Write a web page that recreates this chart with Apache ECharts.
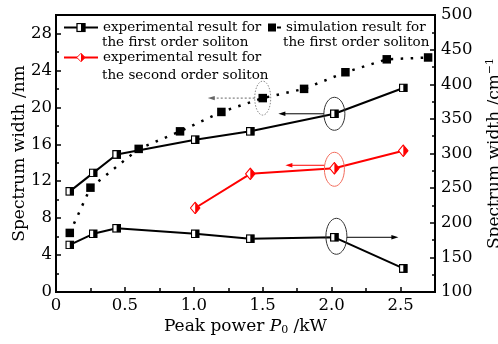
<!DOCTYPE html>
<html><head><meta charset="utf-8">
<script src="https://cdn.jsdelivr.net/npm/echarts@6/dist/echarts.min.js"></script>
<style>html,body{margin:0;padding:0;background:#fff}#c{width:498px;height:344px}</style>
</head><body><div id="c"></div><script>
const FONT = 'DejaVu Serif';
// Experimental, first order soliton (nm on left axis, cm^-1 on right axis)
const powerExp1 = [0.1, 0.27, 0.44, 1.01, 1.41, 2.02, 2.52];
const widthExp1Nm = [10.9, 12.9, 14.9, 16.5, 17.4, 19.3, 22.1];
const widthExp1Cm = [168, 184, 192, 184, 177, 179, 134];
// Experimental, second order soliton (nm)
const powerExp2 = [1.01, 1.41, 2.02, 2.52];
const widthExp2Nm = [9.1, 12.8, 13.4, 15.3];
// Simulation, first order soliton (nm)
const powerSim = [0.1, 0.25, 0.6, 0.9, 1.2, 1.5, 1.8, 2.1, 2.4, 2.7];
const widthSimNm = [6.4, 11.3, 15.5, 17.4, 19.5, 21.0, 22.0, 23.8, 25.2, 25.4];

const NAME_EXP1 = 'experimental result for the first order soliton';
const NAME_EXP2 = 'experimental result for the second order soliton';
const NAME_SIM = 'simulation result for the first order soliton';
const LEGEND_LINE1 = {};
LEGEND_LINE1[NAME_EXP1] = 'experimental result for';
LEGEND_LINE1[NAME_EXP2] = 'experimental result for';
LEGEND_LINE1[NAME_SIM] = 'simulation result for';

const svgUri = s => 'image://data:image/svg+xml;charset=utf-8,' + encodeURIComponent(s);
const halfSquare = svgUri("<svg xmlns='http://www.w3.org/2000/svg' width='20' height='20'><rect x='1.5' y='1.5' width='17' height='17' fill='white' stroke='black' stroke-width='3'/><rect x='10' y='1.5' width='8.5' height='17' fill='black'/></svg>");
const halfDiamond = svgUri("<svg xmlns='http://www.w3.org/2000/svg' width='22' height='26'><polygon points='11,1.5 20.5,13 11,24.5 1.5,13' fill='white' stroke='red' stroke-width='2.2'/><polygon points='11,1.5 20.5,13 11,24.5' fill='red'/></svg>");

const pairs = (xs, ys) => xs.map((x, i) => [x, ys[i]]);

const chart = echarts.init(document.getElementById('c'));
const axisCommon = {
  axisLine: {show: true, lineStyle: {color: '#000', width: 2}},
  axisTick: {show: true, inside: true, length: 5, lineStyle: {color: '#000', width: 1.5}},
  minorTick: {show: true, splitNumber: 2, length: 3, lineStyle: {color: '#000', width: 1.5}},
  splitLine: {show: false},
  axisLabel: {color: '#000', fontFamily: FONT, fontSize: 16.5},
  nameTextStyle: {color: '#000', fontFamily: FONT, fontSize: 17},
  nameMoveOverlap: false
};
const LEG_FONT = 13.5;
chart.setOption({
  animation: false,
  grid: {left: 56, right: 63, top: 15, bottom: 52, outerBoundsMode: 'none', containLabel: false,
         show: true, borderColor: '#000', borderWidth: 2, backgroundColor: 'transparent'},
  legend: [
    {data: [NAME_EXP1, NAME_EXP2], orient: 'vertical', left: 63, top: 19, padding: 0, itemGap: 13,
     itemWidth: 34, itemHeight: 12, formatter: n => LEGEND_LINE1[n],
     textStyle: {fontFamily: FONT, fontSize: LEG_FONT, color: '#000', lineHeight: 17}},
    {data: [{name: NAME_SIM, icon: 'path://M0 0h8v8h-8z M9 3h4v2h-4z'}], left: 268, top: 19, padding: 0,
     itemWidth: 13, itemHeight: 8, formatter: n => LEGEND_LINE1[n],
     textStyle: {fontFamily: FONT, fontSize: LEG_FONT, color: '#000', lineHeight: 17}}
  ],
  xAxis: Object.assign({}, axisCommon, {
    type: 'value', min: 0, max: 2.75, interval: 0.5,
    minorTick: {show: true, splitNumber: 2, length: 4, lineStyle: {color: '#000', width: 1.5}},
    axisLabel: Object.assign({}, axisCommon.axisLabel, {margin: 5,
      formatter: v => (Math.abs(v / 0.5 - Math.round(v / 0.5)) < 1e-6 ? (v === 0 ? '0' : v.toFixed(1)) : '')}),
    name: '{n|Peak power }{i|P}{s|0}{n| /kW}', nameLocation: 'middle', nameGap: 25,
    nameTextStyle: {color: '#000', fontFamily: FONT, fontSize: 17, rich: {
      n: {fontFamily: FONT, fontSize: 17, color: '#000'},
      i: {fontFamily: FONT, fontSize: 17, fontStyle: 'italic', color: '#000'},
      s: {fontFamily: FONT, fontSize: 11, color: '#000', verticalAlign: 'bottom', padding: [8, 0, 0, 0]}
    }}
  }),
  yAxis: [
    Object.assign({}, axisCommon, {
      type: 'value', min: 0, max: 30, interval: 4, position: 'left',
      axisLabel: Object.assign({}, axisCommon.axisLabel, {margin: 4, formatter: v => (v % 4 === 0 ? String(v) : '')}),
      name: 'Spectrum width /nm', nameLocation: 'middle', nameGap: 28, nameRotate: 90
    }),
    Object.assign({}, axisCommon, {
      type: 'value', min: 100, max: 500, interval: 50, position: 'right',
      axisLabel: Object.assign({}, axisCommon.axisLabel, {margin: 6}),
      name: '{n|Spectrum width /cm}{sup|−1}', nameLocation: 'middle', nameGap: 50, nameRotate: 90,
      nameTextStyle: {color: '#000', fontFamily: FONT, fontSize: 17, rich: {
        n: {fontFamily: FONT, fontSize: 17, color: '#000'},
        sup: {fontFamily: FONT, fontSize: 11, color: '#000', verticalAlign: 'top', padding: [0, 0, 8, 0]}
      }}
    })
  ],
  series: [
    {name: NAME_EXP1, type: 'line', yAxisIndex: 0, data: pairs(powerExp1, widthExp1Nm),
     symbol: halfSquare, symbolSize: 9, color: '#000', lineStyle: {color: '#000', width: 2}, z: 3},
    {name: NAME_EXP1, type: 'line', yAxisIndex: 1, data: pairs(powerExp1, widthExp1Cm),
     symbol: halfSquare, symbolSize: 9, color: '#000', lineStyle: {color: '#000', width: 2}, z: 3},
    {name: NAME_EXP2, type: 'line', yAxisIndex: 0, data: pairs(powerExp2, widthExp2Nm),
     symbol: halfDiamond, symbolSize: [11, 13], color: '#ff0000', lineStyle: {color: '#ff0000', width: 2}, z: 3},
    {name: NAME_SIM, type: 'line', yAxisIndex: 0, data: pairs(powerSim, widthSimNm),
     symbol: 'rect', symbolSize: 8.5, color: '#000', itemStyle: {color: '#000'},
     lineStyle: {color: '#000', width: 2.5, type: [2.5, 7.5]}, z: 2}
  ]
});

// Annotations (ellipses + arrows), positioned through the chart's own scales
function px(x, y, yi) { return chart.convertToPixel({xAxisIndex: 0, yAxisIndex: yi}, [x, y]); }
function arrow(x1, y, x2, color, dashed) {
  const dir = x2 > x1 ? 1 : -1;
  return [
    {type: 'line', shape: {x1: x1, y1: y, x2: x2 - dir * 5, y2: y}, style: {stroke: color, lineWidth: 1, lineDash: dashed ? [2, 2] : null}, z: 10},
    {type: 'polygon', shape: {points: [[x2, y], [x2 - dir * 7, y - 2.2], [x2 - dir * 7, y + 2.2]]}, style: {fill: color}, z: 10}
  ];
}
const g = [];
const pSim = px(powerSim[5], widthSimNm[5], 0);
g.push({type: 'ellipse', shape: {cx: pSim[0], cy: pSim[1], rx: 8, ry: 17}, style: {fill: 'none', stroke: '#888', lineWidth: 1, lineDash: [1.5, 1.5]}, z: 10});
g.push(...arrow(pSim[0] - 8, pSim[1], pSim[0] - 55, '#666', true));
const pUp = px(powerExp1[5], widthExp1Nm[5], 0);
g.push({type: 'ellipse', shape: {cx: pUp[0], cy: pUp[1], rx: 10.5, ry: 16.5}, style: {fill: 'none', stroke: '#333', lineWidth: 1}, z: 10});
g.push(...arrow(pUp[0] - 10.5, pUp[1], pUp[0] - 56, '#000', false));
const pRed = px(powerExp2[2], widthExp2Nm[2], 0);
g.push({type: 'ellipse', shape: {cx: pRed[0], cy: pRed[1] + 1, rx: 10, ry: 17}, style: {fill: 'none', stroke: '#f26b5b', lineWidth: 1}, z: 10});
g.push(...arrow(pRed[0] - 10, pRed[1] - 3, pRed[0] - 49, '#ff0000', false));
const pLow = px(powerExp1[5], widthExp1Cm[5], 1);
g.push({type: 'ellipse', shape: {cx: pLow[0] + 2, cy: pLow[1] - 1, rx: 10.5, ry: 18}, style: {fill: 'none', stroke: '#333', lineWidth: 1}, z: 10});
g.push(...arrow(pLow[0] + 12.5, pLow[1], pLow[0] + 64, '#000', false));
// second lines of the legend entries
const l2 = {fontFamily: FONT, fontSize: LEG_FONT, fill: '#000', textVerticalAlign: 'middle'};
g.push({type: 'text', x: 102, y: 42, style: Object.assign({text: 'the first order soliton'}, l2), z: 10});
g.push({type: 'text', x: 102, y: 75, style: Object.assign({text: 'the second order soliton'}, l2), z: 10});
g.push({type: 'text', x: 283, y: 42, style: Object.assign({text: 'the first order soliton'}, l2), z: 10});
chart.setOption({graphic: g});
</script></body></html>
